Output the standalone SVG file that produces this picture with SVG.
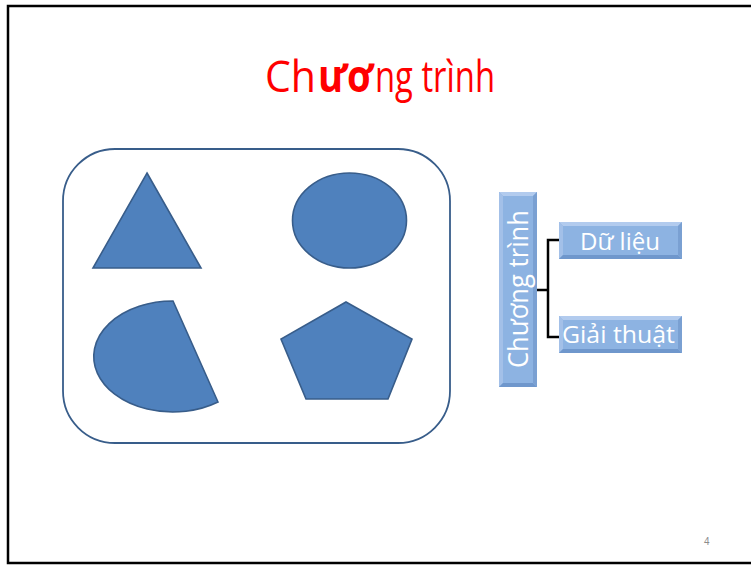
<svg xmlns="http://www.w3.org/2000/svg" width="751" height="565" viewBox="0 0 751 565">
  <style>
    .shape { fill: #4f81bd; stroke: #385d8a; stroke-width: 1.6; }
    .frame { fill: none; stroke: #000; stroke-width: 2.5; }
    .title { font-family: "Open Sans", "Noto Sans", sans-serif; font-size: 44px; fill: #ff0000; }
    .label { font-family: "Open Sans", "Noto Sans", sans-serif; fill: #ffffff; }
    .box { fill: #8db3e2; }
    .hi { fill: #b2cbee; }
    .hi2 { fill: #a3c0e8; }
    .lo { fill: #6f97cc; }
    .lo2 { fill: #7aa0d2; }
    .conn { fill: none; stroke: #000; stroke-width: 2.5; }
    .pnum { font-family: "Liberation Sans", Arial, sans-serif; font-size: 10px; fill: #8c8c8c; }
  </style>

  <rect width="751" height="565" fill="#ffffff"/>
  <rect class="frame" x="8" y="6" width="770" height="557"/>

  <!-- title, the middle vowels set in bold -->
  <g id="title">
    <text class="title" x="265" y="92" textLength="51" lengthAdjust="spacingAndGlyphs">Ch</text>
    <text class="title" x="318" y="92" font-weight="bold" textLength="55" lengthAdjust="spacingAndGlyphs">ươ</text>
    <text class="title" x="375" y="92" textLength="120" lengthAdjust="spacingAndGlyphs">ng trình</text>
  </g>

  <!-- container with the four shapes -->
  <g id="container">
    <rect x="63" y="149" width="387" height="294" rx="52" ry="52" fill="#ffffff" stroke="#385d8a" stroke-width="1.8"/>
  </g>
  <g id="triangle">
    <polygon class="shape" points="147,173 201,268 93,268"/>
  </g>
  <g id="ellipse">
    <ellipse class="shape" cx="349.5" cy="220.5" rx="57" ry="47.5"/>
  </g>
  <g id="pie">
    <path class="shape" d="M173,301 A79,55.5 0 1 0 218,402 Z"/>
  </g>
  <g id="pentagon">
    <polygon class="shape" points="346,302 412,339 388,399 306,399 281,339"/>
  </g>

  <!-- bracket connectors -->
  <g id="connectors">
    <path class="conn" d="M537,290 H548"/>
    <path class="conn" d="M559,240 H548 V337 H559"/>
  </g>

  <!-- vertical bevel box -->
  <g id="node-chuong-trinh">
    <rect class="box" x="499" y="192" width="38" height="195"/>
    <polygon class="hi" points="499,192 537,192 533,196 503,196"/>
    <polygon class="hi2" points="499,192 503,196 503,383 499,387"/>
    <polygon class="lo" points="499,387 503,383 533,383 537,387"/>
    <polygon class="lo2" points="537,192 537,387 533,383 533,196"/>
    <text class="label" transform="translate(528,289) rotate(-90)" text-anchor="middle" font-size="28" textLength="158" lengthAdjust="spacingAndGlyphs">Chương trình</text>
  </g>

  <g id="node-du-lieu">
    <rect class="box" x="559" y="222" width="123" height="37"/>
    <polygon class="hi" points="559,222 682,222 678,226 563,226"/>
    <polygon class="hi2" points="559,222 563,226 563,255 559,259"/>
    <polygon class="lo" points="559,259 563,255 678,255 682,259"/>
    <polygon class="lo2" points="682,222 682,259 678,255 678,226"/>
    <text class="label" x="580" y="250" font-size="24" textLength="80" lengthAdjust="spacingAndGlyphs">Dữ liệu</text>
  </g>

  <g id="node-giai-thuat">
    <rect class="box" x="559" y="316" width="123" height="37"/>
    <polygon class="hi" points="559,316 682,316 678,320 563,320"/>
    <polygon class="hi2" points="559,316 563,320 563,349 559,353"/>
    <polygon class="lo" points="559,353 563,349 678,349 682,353"/>
    <polygon class="lo2" points="682,316 682,353 678,349 678,320"/>
    <text class="label" x="562" y="343" font-size="24" textLength="113" lengthAdjust="spacingAndGlyphs">Giải thuật</text>
  </g>

  <text class="pnum" x="704" y="545">4</text>
</svg>
